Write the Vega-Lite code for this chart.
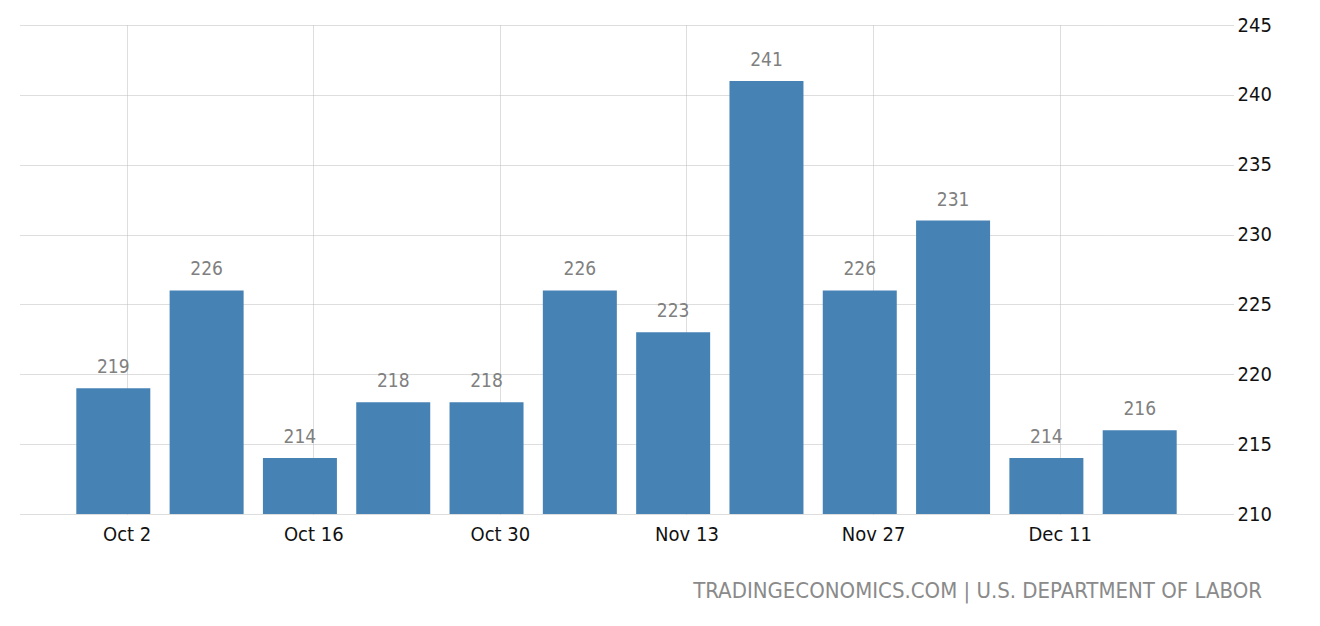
{
  "$schema": "https://vega.github.io/schema/vega-lite/v6.json",
  "autosize": {"type": "none"},
  "padding": {"left": 20, "top": 25, "right": 87, "bottom": 112},
  "width": 1213,
  "height": 489,
  "background": "white",
  "title": {
    "text": "TRADINGECONOMICS.COM | U.S. DEPARTMENT OF LABOR",
    "orient": "bottom",
    "anchor": "end",
    "frame": "group",
    "font": "DejaVu Sans Condensed, DejaVu Sans",
    "fontSize": 22,
    "fontWeight": "normal",
    "color": "#8a8a8a",
    "offset": 37,
    "dx": 29
  },
  "data": {
    "values": [
      {"week": "2016-10-01T00:00:00", "claims": 219},
      {"week": "2016-10-08T00:00:00", "claims": 226},
      {"week": "2016-10-15T00:00:00", "claims": 214},
      {"week": "2016-10-22T00:00:00", "claims": 218},
      {"week": "2016-10-29T00:00:00", "claims": 218},
      {"week": "2016-11-05T00:00:00", "claims": 226},
      {"week": "2016-11-12T00:00:00", "claims": 223},
      {"week": "2016-11-19T00:00:00", "claims": 241},
      {"week": "2016-11-26T00:00:00", "claims": 226},
      {"week": "2016-12-03T00:00:00", "claims": 231},
      {"week": "2016-12-10T00:00:00", "claims": 214},
      {"week": "2016-12-17T00:00:00", "claims": 216}
    ]
  },
  "encoding": {
    "x": {
      "field": "week",
      "type": "temporal",
      "scale": {
        "domain": [
          {"year": 2016, "month": "Sep", "date": 24},
          {"year": 2016, "month": "Dec", "date": 24}
        ],
        "padding": 0,
        "nice": false
      },
      "axis": {
        "title": null,
        "values": [
          {"year": 2016, "month": "Oct", "date": 2},
          {"year": 2016, "month": "Oct", "date": 16},
          {"year": 2016, "month": "Oct", "date": 30},
          {"year": 2016, "month": "Nov", "date": 13},
          {"year": 2016, "month": "Nov", "date": 27},
          {"year": 2016, "month": "Dec", "date": 11}
        ],
        "format": "%b %-d",
        "domain": false,
        "ticks": false,
        "labelPadding": 10,
        "labelFont": "DejaVu Sans Condensed, DejaVu Sans",
        "labelFontSize": 20,
        "labelColor": "#111",
        "grid": true,
        "gridColor": "#bdbdbd",
        "gridDash": [1, 1]
      }
    },
    "y": {
      "field": "claims",
      "type": "quantitative",
      "scale": {"domain": [210, 245], "zero": false, "nice": false},
      "axis": {
        "title": null,
        "orient": "right",
        "values": [210, 215, 220, 225, 230, 235, 240, 245],
        "domain": false,
        "ticks": false,
        "labelPadding": 4,
        "labelFont": "DejaVu Sans Condensed, DejaVu Sans",
        "labelFontSize": 20,
        "labelColor": "#111",
        "gridColor": "#bdbdbd",
        "gridDash": [1, 1]
      }
    }
  },
  "layer": [
    {
      "mark": {"type": "bar", "color": "#4682b4", "size": 74},
      "encoding": {"y2": {"datum": 210}}
    },
    {
      "mark": {
        "type": "text",
        "baseline": "alphabetic",
        "dy": -15,
        "font": "DejaVu Sans Condensed, DejaVu Sans",
        "fontSize": 19,
        "color": "#808080"
      },
      "encoding": {"text": {"field": "claims", "type": "quantitative"}}
    }
  ],
  "config": {"view": {"stroke": null}}
}
